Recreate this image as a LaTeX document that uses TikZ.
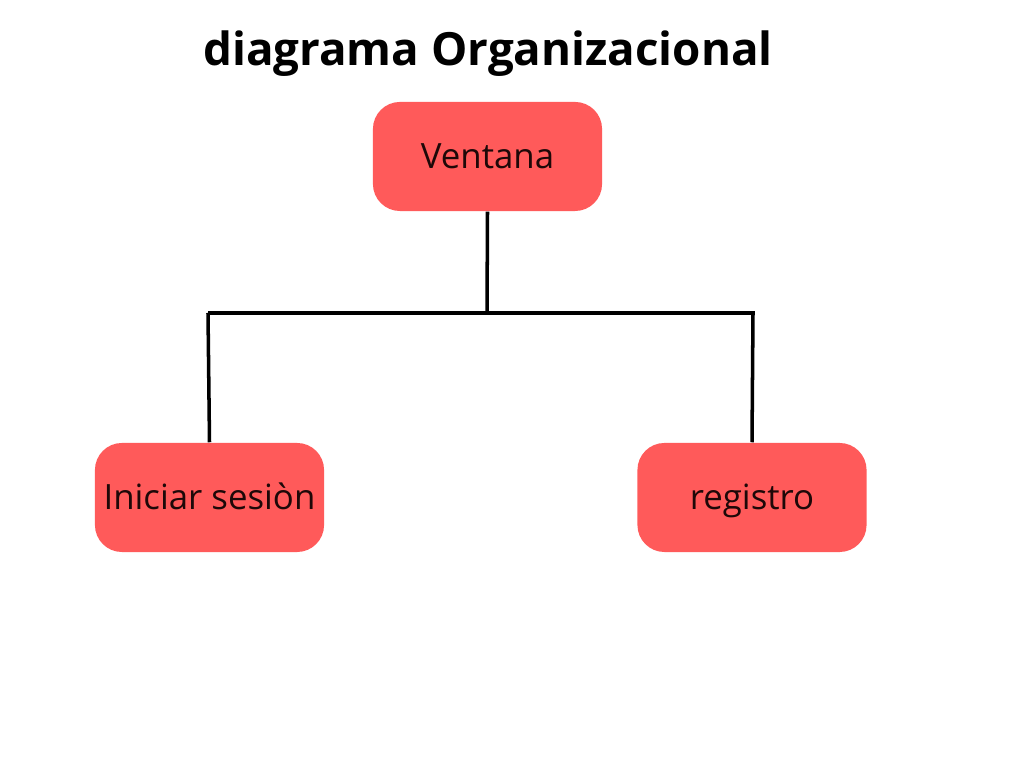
\documentclass[tikz,border=0pt]{standalone}
\usepackage{fontspec}
\setmainfont{Open Sans}
\definecolor{cajaroja}{HTML}{FF5A5A}
\definecolor{textooscuro}{HTML}{1E0808}
\begin{document}
\begin{tikzpicture}[x=0.01cm, y=-0.01cm,
    caja/.style={fill=cajaroja, rounded corners=0.27cm, minimum width=2.29cm,
      minimum height=1.09cm, inner sep=0pt, text=textooscuro,
      text height=1.6ex, text depth=0.3ex,
      font=\fontsize{9.9}{11}\selectfont},
    linea/.style={line width=1pt, black}]
    \useasboundingbox (0,0) rectangle (1024,768);

    \node [font=\bfseries\fontsize{13}{15}\selectfont] (titulo) at (488,54) {diagrama Organizacional};

    \node [caja] (ventana) at (487.5,156.5) {Ventana};
    \node [caja] (iniciar) at (209.5,497.5) {Iniciar sesiòn};
    \node [caja] (registro) at (752,497.5) {registro};

    \coordinate (medio) at (487,313);
    \coordinate (izq) at (208,313);
    \coordinate (der) at (755,313);
    \coordinate (derbaja) at (753,313);

    \draw [linea] (ventana.south) -- (medio);
    \draw [linea] (izq) -- (der);
    \draw [linea] (izq) -- (iniciar.north);
    \draw [linea] (derbaja) -- (registro.north);

  \end{tikzpicture}
\end{document}
